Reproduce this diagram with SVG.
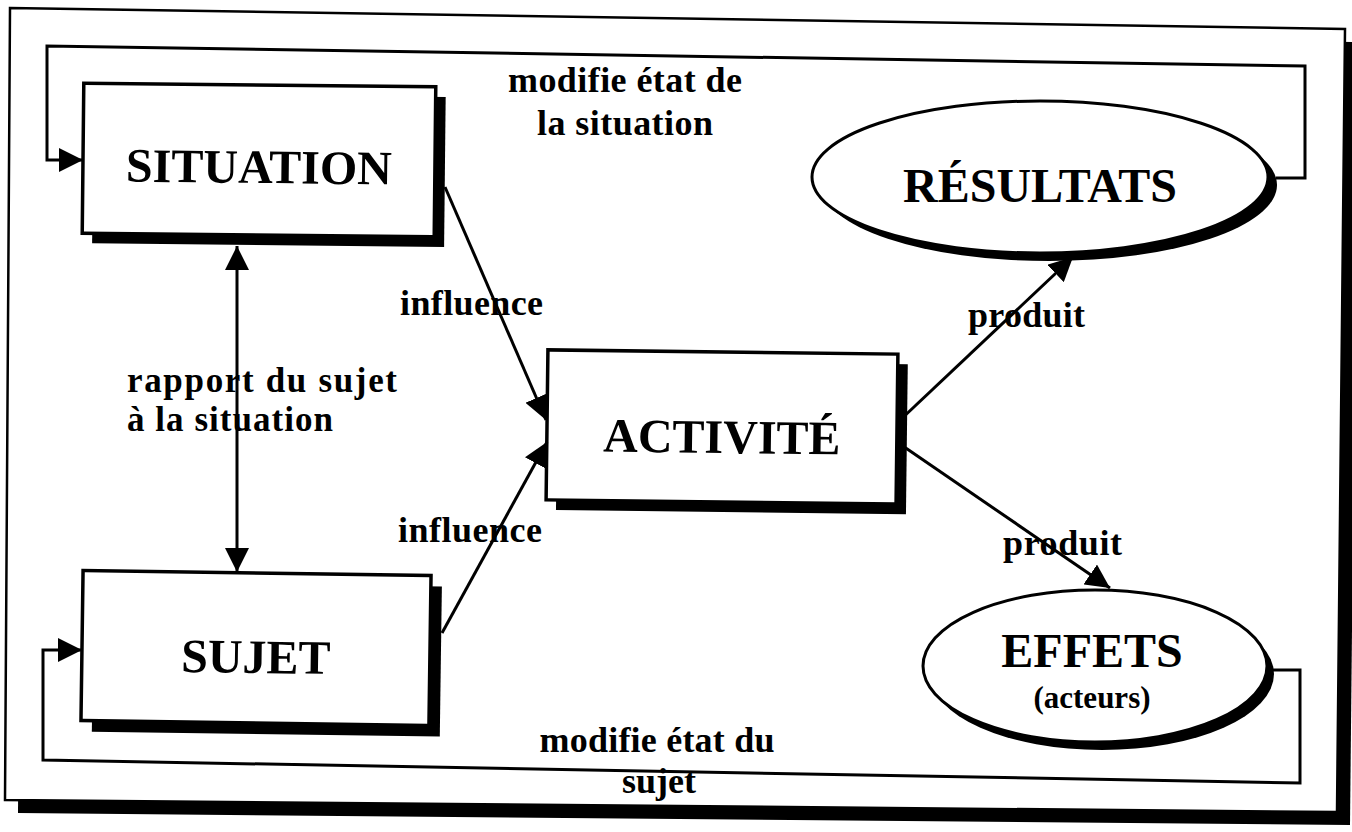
<svg xmlns="http://www.w3.org/2000/svg" width="1352" height="832" viewBox="0 0 1352 832">
<defs>
<marker id="ah" markerUnits="userSpaceOnUse" markerWidth="24" markerHeight="24" refX="24" refY="12" orient="auto-start-reverse" viewBox="0 0 24 24">
<path d="M0,0 L24,12 L0,24 z" fill="#000"/>
</marker>
</defs>
<style>
.box{fill:#fff;stroke:#000;stroke-width:3.5}
.sh{fill:#000}
.ln{fill:none;stroke:#000;stroke-width:3}
.t{font-family:"Liberation Serif","Times New Roman",serif;font-weight:bold;fill:#000}
.big{font-size:48px;text-anchor:middle}
.lbl{font-size:36px}
.mid{text-anchor:middle}
</style>
<rect width="1352" height="832" fill="#fff"/>
<g id="frame">
<polygon class="sh" points="23,21 1358,42 1350,825 18,813"/>
<polygon points="10,8 1345,29 1337,812 5,800" fill="#fff" stroke="#000" stroke-width="2.5"/>
</g>
<g id="situation" transform="rotate(0.6 259 160)">
<rect class="sh" x="93" y="95" width="352" height="150"/>
<rect class="box" x="83" y="85" width="352" height="150"/>
<text class="t big" x="259" y="183">SITUATION</text>
</g>
<g id="activite" transform="rotate(0.7 722 427)">
<rect class="sh" x="557" y="362" width="350" height="150"/>
<rect class="box" x="547" y="352" width="350" height="150"/>
<text class="t big" x="722" y="453">ACTIVITÉ</text>
</g>
<g id="sujet" transform="rotate(0.8 256 648)">
<rect class="sh" x="93" y="584" width="348" height="150"/>
<rect class="box" x="82" y="573" width="348" height="150"/>
<text class="t big" x="256" y="673">SUJET</text>
</g>
<g id="resultats">
<ellipse class="sh" cx="1049" cy="185" rx="228" ry="76"/>
<ellipse cx="1040" cy="177" rx="228" ry="76" fill="#fff" stroke="#000" stroke-width="3"/>
<text class="t big" x="1040" y="202">RÉSULTATS</text>
</g>
<g id="effets">
<ellipse class="sh" cx="1102" cy="674" rx="172" ry="76"/>
<ellipse cx="1095" cy="666" rx="172" ry="76" fill="#fff" stroke="#000" stroke-width="3"/>
<text class="t big" x="1092" y="667">EFFETS</text>
<text class="t mid" x="1092" y="708" font-size="31">(acteurs)</text>
</g>
<g id="labels">
<text class="t lbl mid" x="625" y="92" textLength="234" lengthAdjust="spacing">modifie état de</text>
<text class="t lbl mid" x="625" y="135" textLength="176" lengthAdjust="spacing">la situation</text>
<text class="t lbl" x="400" y="315" textLength="143" lengthAdjust="spacing">influence</text>
<text class="t lbl" x="398" y="542" textLength="144" lengthAdjust="spacing">influence</text>
<text class="t" x="127" y="392" font-size="35" textLength="270" lengthAdjust="spacing">rapport du sujet</text>
<text class="t" x="127" y="431" font-size="35" textLength="206" lengthAdjust="spacing">à la situation</text>
<text class="t lbl" x="968" y="327" textLength="117" lengthAdjust="spacing">produit</text>
<text class="t lbl" x="1003" y="555" textLength="119" lengthAdjust="spacing">produit</text>
<text class="t lbl mid" x="657" y="752" textLength="235" lengthAdjust="spacing">modifie état du</text>
<text class="t lbl mid" x="659" y="793">sujet</text>
</g>
<g id="connectors">
<polyline class="ln" points="1276,178 1305,178 1305,66 47,46 47,160 83,160" marker-end="url(#ah)"/>
<polyline class="ln" points="1273,670 1300,670 1300,783 43,760 43,650 82,650" marker-end="url(#ah)"/>
<line class="ln" x1="237" y1="572" x2="237" y2="246" marker-start="url(#ah)" marker-end="url(#ah)"/>
<line class="ln" x1="445" y1="187" x2="546" y2="420" marker-end="url(#ah)"/>
<line class="ln" x1="442" y1="633" x2="547" y2="442" marker-end="url(#ah)"/>
<line class="ln" x1="897" y1="423" x2="1073" y2="257" marker-end="url(#ah)"/>
<line class="ln" x1="897" y1="442" x2="1110" y2="588" marker-end="url(#ah)"/>
</g>
</svg>
